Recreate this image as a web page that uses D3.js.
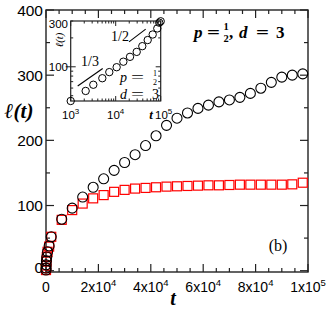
<!DOCTYPE html>
<html><head><meta charset="utf-8">
<script src="https://cdn.jsdelivr.net/npm/d3@7"></script>
<style>
html,body{margin:0;padding:0;background:#fff;}
svg{display:block;}
.sans{font-family:"Liberation Sans",Arial,Helvetica,sans-serif;}
.serif{font-family:"Liberation Serif","Times New Roman",serif;}
</style></head><body>
<svg id="chart" width="332" height="310"></svg>
<script>
// main panel: l(t) against t (black circles, red squares)
var tMain = [1, 10, 50, 150, 300, 600, 1200, 2000, 6000, 10000, 14000, 18000, 22000, 26000, 30000, 34000,
  38000, 42000, 46000, 50000, 54000, 58000, 62000, 66000, 70000, 74000, 78000, 82000, 86000, 90000, 94000, 98000];
var lCirc = [1, 4, 9, 15, 21, 29, 38, 52, 79, 96, 113, 128, 141, 154, 166, 178,
  192, 207, 223, 234, 242, 249, 254, 259, 262, 266, 272, 280, 289, 297, 300, 302];
var lSq = [1, 4, 8, 14, 21, 29, 37, 52, 78, 93, 103, 111, 116, 121, 124, 126,
  127, 128, 129, 129.5, 130, 130.5, 131, 131, 131.5, 132, 132, 132, 132, 132, 132.5, 135];
var yTicks = [0, 100, 200, 300, 400];
var xTicks = [0, 20000, 40000, 60000, 80000, 100000];

// inset: same circles on log-log axes, plus the 1/3 and 1/2 guide lines
var tIn = [1000, 2150, 3180, 5040, 7210, 10500, 14800, 20800, 29300, 39000, 51400, 66400, 84000, 93000, 100000];
var lIn = [44, 56, 65, 76, 88, 99, 113, 127, 143, 164, 190, 217, 251, 288, 298];
var guide13 = [[1430, 63], [5140, 96]];
var guide12 = [[19750, 182], [46400, 247]];
var inYLabels = [100, 300];
var inXLabels = [1000, 10000, 100000];

var svg = d3.select("#chart");
svg.append("rect").attr("width", 332).attr("height", 310).attr("fill", "#fff");

var x = d3.scaleLinear().domain([0, 1e5]).range([46, 308]);
var y = d3.scaleLinear().domain([-2, 400]).range([272, 10]);
var L = 46, R = 308, T = 10, B = 272;

// ticks (inward, all four sides)
var g = svg.append("g").attr("stroke", "#222").attr("stroke-width", 1.2);
d3.range(0, 100001, 5000).forEach(function (v) {
  var len = v % 20000 === 0 ? 8 : 4;
  g.append("line").attr("x1", x(v)).attr("x2", x(v)).attr("y1", B).attr("y2", B - len);
  g.append("line").attr("x1", x(v)).attr("x2", x(v)).attr("y1", T).attr("y2", T + len);
});
d3.range(0, 401, 50).forEach(function (v) {
  var len = v % 100 === 0 ? 8 : 4;
  g.append("line").attr("y1", y(v)).attr("y2", y(v)).attr("x1", L).attr("x2", L + len);
  g.append("line").attr("y1", y(v)).attr("y2", y(v)).attr("x1", R).attr("x2", R - len);
});
svg.append("rect").attr("x", L).attr("y", T).attr("width", R - L).attr("height", B - T)
  .attr("fill", "none").attr("stroke", "#222").attr("stroke-width", 1.4);

// tick labels
yTicks.forEach(function (v) {
  svg.append("text").attr("class", "sans").attr("x", 43).attr("y", y(v) - (v === 0 ? 3 : 0))
    .attr("dy", "0.36em").attr("text-anchor", "end").attr("font-size", 15.5).text(v);
});
xTicks.forEach(function (v) {
  var t = svg.append("text").attr("class", "sans").attr("x", x(v)).attr("y", 292)
    .attr("text-anchor", "middle").attr("font-size", 14);
  if (v === 0) { t.text("0"); return; }
  var e = Math.floor(Math.log10(v)), m = Math.round(v / Math.pow(10, e));
  t.append("tspan").text(m + "x10");
  t.append("tspan").attr("font-size", 9.5).attr("dy", -6).text(e);
});

// axis titles
svg.append("text").attr("class", "serif").attr("x", 19).attr("y", 118).attr("text-anchor", "middle")
  .attr("font-size", 21).attr("font-weight", "bold").attr("font-style", "italic").text("ℓ(t)");
svg.append("text").attr("class", "serif").attr("x", 173).attr("y", 305).attr("text-anchor", "middle")
  .attr("font-size", 20).attr("font-weight", "bold").attr("font-style", "italic").text("t");
svg.append("text").attr("class", "serif").attr("x", 278).attr("y", 251).attr("text-anchor", "middle")
  .attr("font-size", 16).text("(b)");

// series
var pts = tMain.map(function (t, i) { return { t: t, c: lCirc[i], s: lSq[i] }; });
svg.append("g").selectAll("rect").data(pts).join("rect")
  .attr("x", function (d) { return x(d.t) - 4.5; }).attr("y", function (d) { return y(d.s) - 4.5; })
  .attr("width", 9).attr("height", 9).attr("fill", "none").attr("stroke", "#f00").attr("stroke-width", 1.2);
svg.append("g").selectAll("circle").data(pts).join("circle")
  .attr("cx", function (d) { return x(d.t); }).attr("cy", function (d) { return y(d.c); })
  .attr("r", 5).attr("fill", "none").attr("stroke", "#000").attr("stroke-width", 1.1);

// annotation p = 1/2, d = 3 (bold italic)
function txt(xp, yp, s, size, opt) {
  opt = opt || {};
  var t = svg.append("text").attr("class", "serif").attr("x", xp).attr("y", yp).attr("font-size", size)
    .attr("font-weight", opt.bold ? "bold" : "normal").attr("font-style", opt.italic ? "italic" : "normal")
    .attr("text-anchor", opt.anchor || "start").text(s);
  if (opt.len) t.attr("textLength", opt.len).attr("lengthAdjust", "spacingAndGlyphs");
  return t;
}
txt(194, 38, "p", 17, { bold: 1, italic: 1 });
txt(207, 38, "=", 17, { bold: 1, len: 13 });
txt(226, 30, "1", 10.5, { bold: 1, anchor: "middle" });
txt(226, 42, "2", 10.5, { bold: 1, anchor: "middle" });
txt(229, 38, ",", 17, { bold: 1 });
txt(239, 38, "d", 17, { bold: 1, italic: 1 });
txt(256, 38, "=", 17, { bold: 1, len: 13 });
txt(276, 38, "3", 17, { bold: 1 });

// inset
var ix = d3.scaleLog().domain([1e3, 1e5]).range([70.7, 160.7]);
var iy = d3.scaleLog().domain([44, 300]).range([101, 21]);
var iL = 70.7, iR = 160.7, iT = 21, iB = 101;
svg.append("rect").attr("x", iL).attr("y", iT).attr("width", iR - iL).attr("height", iB - iT)
  .attr("fill", "#fff").attr("stroke", "none");
var gi = svg.append("g").attr("stroke", "#222").attr("stroke-width", 1);
ix.ticks().forEach(function (v) {
  var len = Math.abs(Math.log10(v) % 1) < 1e-9 ? 5 : 2.5;
  gi.append("line").attr("x1", ix(v)).attr("x2", ix(v)).attr("y1", iB).attr("y2", iB - len);
  gi.append("line").attr("x1", ix(v)).attr("x2", ix(v)).attr("y1", iT).attr("y2", iT + len);
});
iy.ticks().forEach(function (v) {
  var len = Math.abs(Math.log10(v) % 1) < 1e-9 ? 5 : 2.5;
  gi.append("line").attr("y1", iy(v)).attr("y2", iy(v)).attr("x1", iL).attr("x2", iL + len);
  gi.append("line").attr("y1", iy(v)).attr("y2", iy(v)).attr("x1", iR).attr("x2", iR - len);
});
gi.append("line").attr("y1", iy(100)).attr("y2", iy(100)).attr("x1", iL - 5).attr("x2", iL);
svg.append("rect").attr("x", iL).attr("y", iT).attr("width", iR - iL).attr("height", iB - iT)
  .attr("fill", "none").attr("stroke", "#222").attr("stroke-width", 1.2);

inYLabels.forEach(function (v) {
  svg.append("text").attr("class", "sans").attr("x", 68).attr("y", iy(v) + (v === 300 ? 3 : 0)).attr("dy", "0.36em")
    .attr("text-anchor", "end").attr("font-size", 11.5).text(v);
});
inXLabels.forEach(function (v) {
  var t = svg.append("text").attr("class", "sans").attr("x", ix(v) + (v === 1e5 ? 3 : 0)).attr("y", 119)
    .attr("text-anchor", "middle").attr("font-size", 11.5);
  t.append("tspan").text("10");
  t.append("tspan").attr("font-size", 8).attr("dy", -5).text(Math.round(Math.log10(v)));
});
txt(151, 119, "t", 13, { bold: 1, italic: 1, anchor: "middle" });
svg.append("text").attr("class", "serif").attr("transform", "translate(63,40) rotate(-90)")
  .attr("text-anchor", "middle").attr("font-size", 10.5).attr("font-style", "italic").text("ℓ(t)");

var line = d3.line().x(function (d) { return ix(d[0]); }).y(function (d) { return iy(d[1]); });
svg.append("path").attr("d", line(guide13)).attr("stroke", "#000").attr("stroke-width", 1.1).attr("fill", "none");
svg.append("path").attr("d", line(guide12)).attr("stroke", "#000").attr("stroke-width", 1.1).attr("fill", "none");
txt(90, 66, "1/3", 14, { anchor: "middle" });
txt(120, 41, "1/2", 14, { anchor: "middle" });

svg.append("g").selectAll("circle").data(tIn).join("circle")
  .attr("cx", function (d) { return ix(d); }).attr("cy", function (d, i) { return iy(lIn[i]); })
  .attr("r", 3.7).attr("fill", "none").attr("stroke", "#000").attr("stroke-width", 1);

txt(120, 82, "p", 14, { italic: 1 });
txt(131, 82, "=", 14, { len: 13 });
txt(155, 76, "1", 8, { anchor: "middle" });
txt(155, 85, "2", 8, { anchor: "middle" });
txt(120, 99, "d", 14, { italic: 1 });
txt(131, 99, "=", 14, { len: 13 });
txt(152, 99, "3", 14);
</script>
</body></html>
